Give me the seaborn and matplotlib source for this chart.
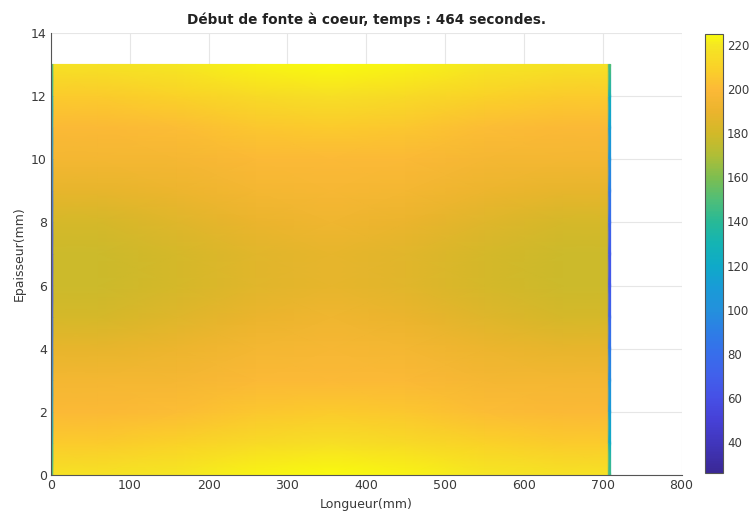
import numpy as np
import matplotlib
matplotlib.use("Agg")
import matplotlib.pyplot as plt
import seaborn as sns
from matplotlib.colors import LinearSegmentedColormap

# --- DATA (temperature field) ---
x_mm = [0, 2, 4, 60, 160, 260, 355, 450, 550, 650, 706, 708, 710]
y_mm = [0, 1, 2, 3, 4, 5, 6, 7, 8, 9, 10, 11, 12, 13]
temp = [
    [150, 150, 218, 218, 220, 223, 225, 223, 220, 218, 218, 150, 150],
    [125, 125, 207, 207, 210, 214, 216, 214, 210, 207, 207, 125, 125],
    [112, 112, 199, 199, 201, 205, 207, 205, 201, 199, 199, 112, 112],
    [100, 100, 195, 195, 196, 199, 200, 199, 196, 195, 195, 100, 100],
    [88, 88, 188, 188, 191, 195, 197, 195, 191, 188, 188, 88, 88],
    [75, 75, 181, 181, 185, 190, 193, 190, 185, 181, 181, 75, 75],
    [65, 65, 178, 178, 181, 186, 188, 186, 181, 178, 178, 65, 65],
    [65, 65, 178, 178, 181, 186, 188, 186, 181, 178, 178, 65, 65],
    [75, 75, 181, 181, 185, 190, 193, 190, 185, 181, 181, 75, 75],
    [88, 88, 188, 188, 191, 195, 197, 195, 191, 188, 188, 88, 88],
    [100, 100, 195, 195, 196, 199, 200, 199, 196, 195, 195, 100, 100],
    [112, 112, 199, 199, 201, 205, 207, 205, 201, 199, 199, 112, 112],
    [125, 125, 207, 207, 210, 214, 216, 214, 210, 207, 207, 125, 125],
    [150, 150, 218, 218, 220, 223, 225, 223, 220, 218, 218, 150, 150],
]
cbar_ticks = [40, 60, 80, 100, 120, 140, 160, 180, 200, 220]
title = "Début de fonte à coeur, temps : 464 secondes."

# --- STYLE ---
sns.set_theme(style="whitegrid")
plt.rcParams['font.family'] = ['DejaVu Sans']
TXT = '#3a3a3a'
VMIN, VMAX = 26, 225

# parula-like colormap, colours sampled from the reference colour bar
cb_vals = [26, 40, 50, 60, 70, 80, 90, 100, 110, 120, 130, 140, 150, 160,
           170, 180, 190, 200, 210, 220, 225]
cb_cols = ['#3a2896', '#4137be', '#4641d7', '#4650e6', '#4160eb', '#376eeb',
           '#2d7ee6', '#2391dc', '#199bd7', '#0faac8', '#14b4b4', '#28b996',
           '#50be78', '#7dbe50', '#afbe37', '#d2b928', '#ebb42d', '#fcb937',
           '#fad228', '#f5e623', '#f9fb0e']
parula = LinearSegmentedColormap.from_list(
    "parula", [((v - VMIN) / (VMAX - VMIN), c) for v, c in zip(cb_vals, cb_cols)])

fig = plt.figure(figsize=(7.49, 5.13), dpi=100)
ax = fig.add_axes([0.068, 0.074, 0.842, 0.862])
cax = fig.add_axes([0.941, 0.078, 0.024, 0.856])

X, Y = np.meshgrid(x_mm, y_mm)
mesh = ax.pcolormesh(X, Y, np.array(temp), shading='gouraud', cmap=parula,
                     vmin=VMIN, vmax=VMAX, zorder=2)

ax.set_xlim(0, 800)
ax.set_ylim(0, 14)
ax.set_xticks(range(0, 801, 100))
ax.set_yticks(range(0, 15, 2))
ax.grid(True, color='#e6e6e6', linewidth=0.8, zorder=0)
ax.set_axisbelow(True)
for s in ['top', 'right']:
    ax.spines[s].set_visible(False)
for s in ['left', 'bottom']:
    ax.spines[s].set_color('#555555')
    ax.spines[s].set_linewidth(0.8)
ax.tick_params(direction='in', length=4, width=0.8, colors='#555555',
               labelcolor=TXT, labelsize=9, pad=3)
ax.set_xlabel("Longueur(mm)", fontsize=9, color=TXT, labelpad=4)
ax.set_ylabel("Epaisseur(mm)", fontsize=9, color=TXT, labelpad=4)
ax.set_title(title, fontsize=9.8, fontweight='bold', color='#222222', pad=6)

cb = fig.colorbar(mesh, cax=cax, ticks=cbar_ticks)
cb.outline.set_edgecolor('#555555')
cb.outline.set_linewidth(0.8)
cax.tick_params(direction='in', length=3, width=0.8, colors='#555555',
                labelcolor=TXT, labelsize=8.5, pad=3)

fig.savefig("out.png", dpi=100)
